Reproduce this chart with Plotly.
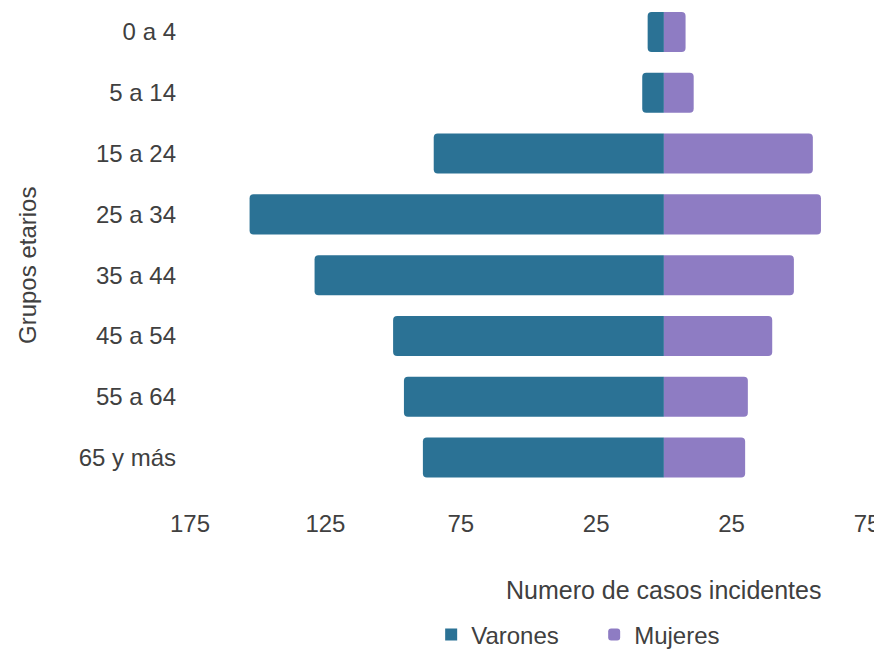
import plotly.graph_objects as go

grupos = ["0 a 4", "5 a 14", "15 a 24", "25 a 34", "35 a 44", "45 a 54", "55 a 64", "65 y más"]
varones = [6, 8, 85, 153, 129, 100, 96, 89]
mujeres = [8, 11, 55, 58, 48, 40, 31, 30]
tick_vals = [-175, -125, -75, -25, 25, 75]
tick_text = ["175", "125", "75", "25", "25", "75"]

FONT = "Liberation Sans, Arial, sans-serif"
TXT = "#404040"
FS = 24

fig = go.Figure()
fig.add_trace(go.Bar(
    y=grupos, x=[-v for v in varones], name="Varones", orientation="h",
    marker=dict(color="#2b7295", line=dict(width=0)),
))
fig.add_trace(go.Bar(
    y=grupos, x=mujeres, name="Mujeres", orientation="h",
    marker=dict(color="#8e7cc3", line=dict(width=0), cornerradius=4),
))

fig.update_layout(
    width=874, height=653,
    margin=dict(l=182, r=15, t=0, b=173, autoexpand=False),
    barmode="relative", bargap=0.342,
    plot_bgcolor="white", paper_bgcolor="white",
    font=dict(family=FONT, color=TXT, size=FS),
    showlegend=True,
    legend=dict(orientation="h", x=0.597, xanchor="center",
                yref="container", y=0.0398, yanchor="middle", entrywidth=118,
                font=dict(size=FS, color=TXT), traceorder="normal"),
    xaxis=dict(range=[-175, 75], tickvals=tick_vals, ticktext=tick_text,
               showgrid=False, zeroline=False, showline=False, automargin=False,
               tickfont=dict(size=FS, color=TXT), ticklabelstandoff=19, fixedrange=True),
    yaxis=dict(range=[7.5, -0.394], showgrid=False, zeroline=False, showline=False,
               automargin=False, tickfont=dict(size=FS, color=TXT), ticklabelstandoff=13),
    annotations=[
        dict(text="Numero de casos incidentes", x=0, xref="x", xanchor="center",
             y=-0.2125, yref="paper", yanchor="middle", showarrow=False,
             font=dict(size=FS + 1, color=TXT)),
        dict(text="Grupos etarios", x=-0.2393, xref="paper", xanchor="center",
             y=0.4646, yref="paper", yanchor="middle", showarrow=False, textangle=-90,
             font=dict(size=FS, color=TXT)),
    ],
)

fig.write_html("out.html")
